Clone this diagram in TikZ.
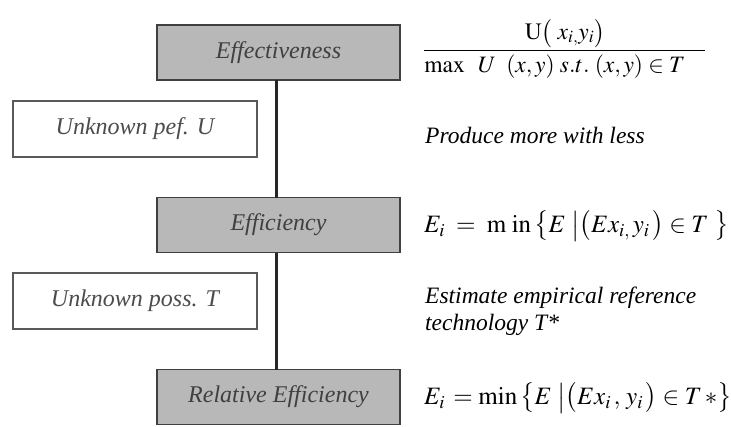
\documentclass[tikz,border=0pt]{standalone}
\usepackage{amsmath}
\usepackage{mathptmx}
\usepackage{fontspec}
\setmainfont{Liberation Serif}
\begin{document}
\begin{tikzpicture}[x=1pt,y=-1pt,
  mainbox/.style={draw=black!75,line width=1.6pt,fill=black!28,minimum width=243pt,minimum height=55pt,inner sep=0pt,font=\fontsize{24}{28}\selectfont\itshape,text=black!75},
  sidebox/.style={draw=black!65,line width=1.3pt,fill=white,minimum width=244pt,minimum height=56pt,inner sep=0pt,font=\fontsize{24}{28}\selectfont\itshape,text=black!70},
  link/.style={line width=3pt,draw=black!85},
  note/.style={anchor=west,inner sep=0pt,font=\fontsize{23.5}{27}\selectfont\itshape,align=left},
  formula/.style={anchor=west,inner sep=0pt,font=\fontsize{25}{29}\selectfont},
  fracstyle/.style={anchor=west,inner sep=0pt,font=\fontsize{23.5}{27}\selectfont}]
\useasboundingbox (0,0) rectangle (731,426);
\node[mainbox] (eff) at (278.5,52.5) {Effectiveness};
\node[sidebox] (pef) at (135,129) {Unknown pef. U};
\node[mainbox] (effi) at (278.5,225) {Efficiency};
\node[sidebox] (poss) at (135,301) {Unknown poss. T};
\node[mainbox] (rel) at (278.5,397) {Relative Efficiency};
\coordinate (a1) at (276,80);
\coordinate (a2) at (276,197.5);
\coordinate (b1) at (276,252.5);
\coordinate (b2) at (276,369.5);
\draw[link] (a1) -- (a2);
\draw[link] (b1) -- (b2);
\node[fracstyle] (f1) at (423,49) {$\dfrac{\mathrm{U}\bigl(\;x_{i,}y_{i}\bigr)}{\max\;\;U\;\;(x,y)\;s.t.\;(x,y)\in T\hspace{20pt}}$};
\node[note] (n1) at (425,135) {Produce more with less};
\node[note] (n2) at (425,311) {Estimate empirical reference\\technology T*};
\node[formula] (f2) at (424,226) {$E_{i}\;=\;\mathrm{m\;in}\left\{E\;\middle|\bigl(Ex_{i,}\,y_{i}\,\bigr)\in T\;\right\}$};
\node[formula] (f3) at (424,398) {$E_{i}\,=\mathrm{min}\left\{E\;\middle|\bigl(Ex_{i}\,,\,y_{i}\,\bigr)\in T\,\mathord{*}\right\}$};
\end{tikzpicture}
\end{document}
